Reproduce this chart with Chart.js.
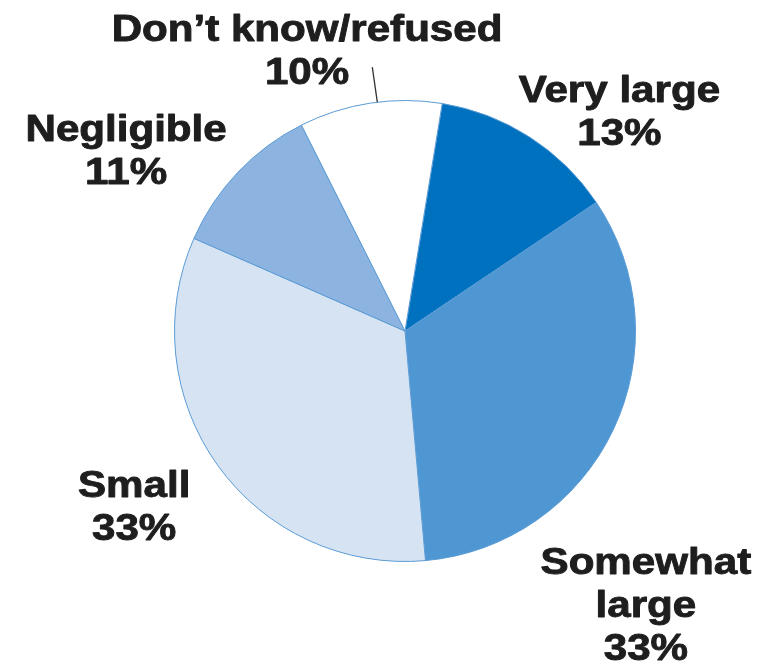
<!DOCTYPE html>
<html>
<head>
<meta charset="utf-8">
<title>Pie</title>
<script src="https://cdn.jsdelivr.net/npm/chart.js@4/dist/chart.umd.min.js"></script>
<style>
  html, body { margin: 0; padding: 0; background: #fff; }
  #pieCanvas { display: block; }
</style>
</head>
<body>
<canvas id="pieCanvas" width="765" height="665"></canvas>
<script>
// slices, clockwise from just right of 12 o'clock
const categories = ["Very large", "Somewhat large", "Small", "Negligible", "Don\u2019t know/refused"];
const shares = [13, 33, 33, 11, 10];
const labelLines = [["Very large"], ["Somewhat", "large"], ["Small"], ["Negligible"], ["Don\u2019t know/refused"]];
const sliceColors = ["#0071bf", "#4f97d3", "#d6e3f3", "#8db3e1", "#ffffff"];

// where each label's first baseline sits, as a fraction of the radius from the centre
const labelSpots = [[0.93, -0.995], [1.045, 1.055], [-1.175, 0.72], [-1.21, -0.825], [-0.425, -1.26]];

const labelPlugin = {
  id: "sliceLabels",
  afterDraw(chart) {
    const ctx = chart.ctx;
    const arcs = chart.getDatasetMeta(0).data;
    ctx.save();
    ctx.fillStyle = "#1e1e1e";
    ctx.strokeStyle = "#1e1e1e";
    ctx.lineWidth = 0.9;
    ctx.lineJoin = "round";
    ctx.font = "bold 36px 'Liberation Sans', Arial, sans-serif";
    ctx.textAlign = "center";
    ctx.textBaseline = "alphabetic";
    arcs.forEach(function(arc, i) {
      const r = arc.outerRadius;
      const x = arc.x + labelSpots[i][0] * r;
      let y = arc.y + labelSpots[i][1] * r;
      const lines = labelLines[i].concat([shares[i] + "%"]);
      lines.forEach(function(t) {
        ctx.save();
        ctx.translate(x, y);
        ctx.scale(1.17, 1);
        ctx.fillText(t, 0, 0);
        ctx.strokeText(t, 0, 0);
        ctx.restore();
        y += 43;
      });
    });

    // short leader from the last label down to its slice
    const last = arcs[arcs.length - 1];
    const a = last.startAngle + (last.endAngle - last.startAngle) * 0.55;
    const ex = last.x + Math.cos(a) * last.outerRadius;
    const ey = last.y + Math.sin(a) * last.outerRadius;
    ctx.strokeStyle = "#333";
    ctx.lineWidth = 1.3;
    ctx.beginPath();
    ctx.moveTo(ex, ey);
    ctx.lineTo(ex - 5, ey - 35);
    ctx.stroke();
    ctx.restore();
  }
};

new Chart(document.getElementById("pieCanvas"), {
  type: "pie",
  data: {
    labels: categories,
    datasets: [{
      data: shares,
      backgroundColor: sliceColors,
      borderColor: "#5b9bd5",
      borderWidth: 1
    }]
  },
  options: {
    responsive: false,
    animation: false,
    rotation: 9.3,
    layout: { padding: { left: 174, right: 129, top: 100, bottom: 103 } },
    plugins: {
      legend: { display: false },
      tooltip: { enabled: false }
    }
  },
  plugins: [labelPlugin]
});
</script>
</body>
</html>
